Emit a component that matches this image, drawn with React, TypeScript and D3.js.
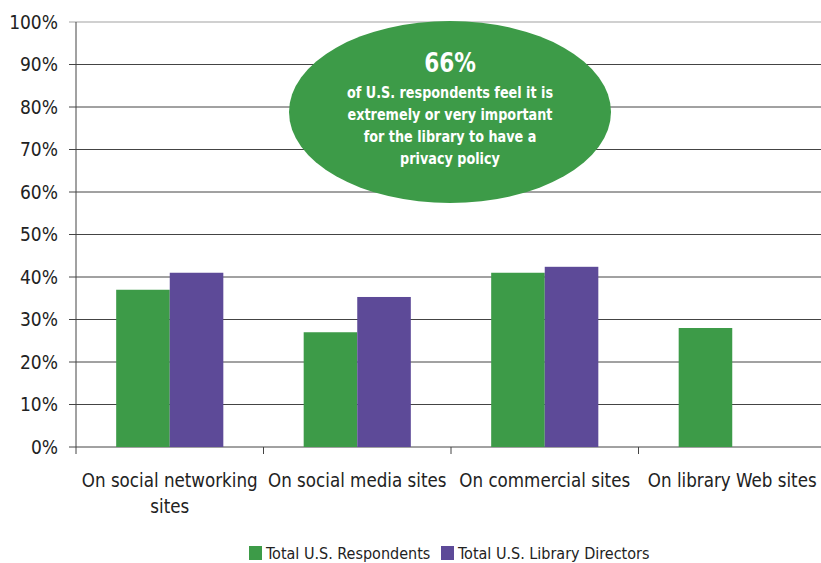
import * as React from "react";
import * as d3 from "d3";

const categories = [
  ["On social networking", "sites"],
  ["On social media sites"],
  ["On commercial sites"],
  ["On library Web sites"],
];
const seriesNames = ["Total U.S. Respondents", "Total U.S. Library Directors"];
const respondents = [37, 27, 41, 28];
const directors: (number | null)[] = [41, 35.3, 42.4, null];
const yTicks = [0, 10, 20, 30, 40, 50, 60, 70, 80, 90, 100];
const calloutHead = "66%";
const calloutLines = [
  "of U.S. respondents feel it is",
  "extremely or very important",
  "for the library to have a",
  "privacy policy",
];

const GREEN = "#3d9b48";
const PURPLE = "#5d4a98";
const FONT = "'DejaVu Sans Condensed', 'Liberation Sans', sans-serif";

const App = () => {
  const width = 821;
  const height = 563;
  const left = 76;
  const right = 826;
  const top = 22;
  const bottom = 447;

  const x = d3
    .scaleBand()
    .domain(categories.map((c, i) => String(i)))
    .range([left, right])
    .paddingInner(0)
    .paddingOuter(0);
  const inner = d3
    .scaleBand()
    .domain(["0", "1"])
    .range([0, x.bandwidth()])
    .paddingOuter(0.75)
    .paddingInner(0);
  const y = d3.scaleLinear().domain([0, 100]).range([bottom, top]);
  const cx = 450;

  return (
    <svg width={width} height={height} style={{ position: "absolute", left: 0, top: 0 }}>
      <rect width={width} height={height} fill="#fff" />
      {yTicks.map((t) => (
        <g key={t}>
          <line
            x1={left - 7}
            x2={right}
            y1={y(t)}
            y2={y(t)}
            stroke={t === 100 ? "#d0d0d0" : "#444"}
            strokeWidth={t === 100 ? 2 : 1}
          />
          <text
            x={left - 18}
            y={y(t)}
            dy="0.35em"
            textAnchor="end"
            fontFamily={FONT}
            fontSize={19}
            fill="#222"
          >
            {t}%
          </text>
        </g>
      ))}
      <line x1={left} x2={left} y1={top} y2={bottom + 7} stroke="#444" />
      {categories.map((c, i) =>
        i > 0 ? (
          <line
            key={"t" + i}
            x1={x(String(i))!}
            x2={x(String(i))!}
            y1={bottom}
            y2={bottom + 7}
            stroke="#444"
          />
        ) : null
      )}
      {respondents.map((v, i) => (
        <rect
          key={"r" + i}
          x={x(String(i))! + inner("0")!}
          y={y(v)}
          width={inner.bandwidth()}
          height={bottom - y(v)}
          fill={GREEN}
        />
      ))}
      {directors.map((v, i) =>
        v == null ? null : (
          <rect
            key={"d" + i}
            x={x(String(i))! + inner("1")!}
            y={y(v)}
            width={inner.bandwidth()}
            height={bottom - y(v)}
            fill={PURPLE}
          />
        )
      )}
      {categories.map((c, i) => {
        const mx = x(String(i))! + x.bandwidth() / 2;
        return (
          <text
            key={"c" + i}
            x={mx}
            y={487}
            textAnchor="middle"
            fontFamily={FONT}
            fontSize={18.6}
            fill="#222"
          >
            {c.map((line, j) => (
              <tspan key={j} x={mx} dy={j === 0 ? 0 : 26}>
                {line}
              </tspan>
            ))}
          </text>
        );
      })}
      <ellipse cx={cx} cy={112} rx={161} ry={91} fill={GREEN} />
      <g transform={`translate(${cx},0) scale(0.89,1)`}>
        <text
          x={0}
          y={72}
          textAnchor="middle"
          fontFamily={FONT}
          fontWeight="bold"
          fontSize={27}
          fill="#fff"
        >
          {calloutHead}
        </text>
        {calloutLines.map((l, i) => (
          <text
            key={"l" + i}
            x={0}
            y={98 + i * 22}
            textAnchor="middle"
            fontFamily={FONT}
            fontWeight="bold"
            fontSize={16}
            fill="#fff"
          >
            {l}
          </text>
        ))}
      </g>
      {seriesNames.map((s, i) => {
        const lx = i === 0 ? 249 : 441;
        return (
          <g key={"lg" + i}>
            <rect x={lx} y={546} width={13} height={14} fill={i === 0 ? GREEN : PURPLE} />
            <text x={lx + 17} y={559} fontFamily={FONT} fontSize={16} fill="#222">
              {s}
            </text>
          </g>
        );
      })}
    </svg>
  );
};

export default App;
